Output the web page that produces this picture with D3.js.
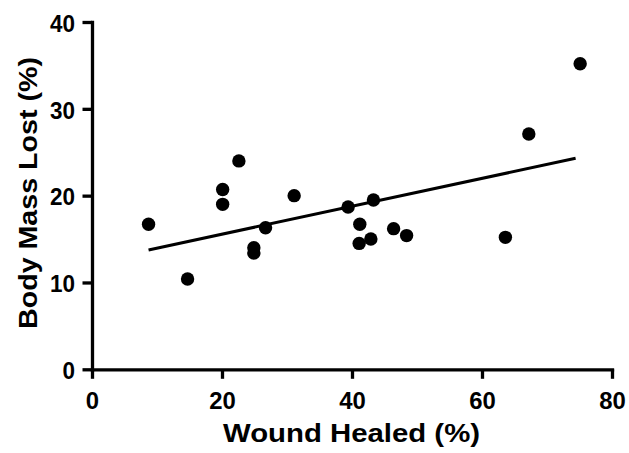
<!DOCTYPE html>
<html>
<head>
<meta charset="utf-8">
<script src="https://cdn.jsdelivr.net/npm/d3@7"></script>
<style>
  html, body { margin: 0; padding: 0; background: #fff; }
  svg { display: block; }
  text { font-family: "Liberation Sans", Arial, Helvetica, sans-serif; font-weight: bold; fill: #000; }
</style>
</head>
<body>
<svg id="chart" width="629" height="453"></svg>
<script>
// Data
const woundHealed = [8.7, 14.7, 20.1, 20.1, 22.6, 31.1, 26.7, 24.9, 24.9, 39.4, 43.3, 41.2, 46.4, 41.1, 42.9, 48.4, 63.6, 67.2, 75.1];
const bodyMassLost = [16.7, 10.4, 20.7, 19.0, 24.0, 20.0, 16.3, 14.0, 13.4, 18.7, 19.5, 16.7, 16.2, 14.5, 15.0, 15.4, 15.2, 27.1, 35.2];
const fitX = [8.7, 74.4];
const fitY = [13.75, 24.3];
const xTicks = [0, 20, 40, 60, 80];
const yTicks = [0, 10, 20, 30, 40];
const xTitle = "Wound Healed (%)";
const yTitle = "Body Mass Lost (%)";

const svg = d3.select("#chart");
const x = d3.scaleLinear().domain([0, 80]).range([92, 612]);
const y = d3.scaleLinear().domain([0, 40]).range([369.3, 22]);

const points = woundHealed.map((v, i) => ({ x: v, y: bodyMassLost[i] }));

// Axes
const xAxis = svg.append("g")
  .attr("transform", `translate(0,${y(0)})`)
  .call(d3.axisBottom(x).tickValues(xTicks).tickSize(9.5).tickSizeOuter(0));
const yAxis = svg.append("g")
  .attr("transform", `translate(${x(0)},0)`)
  .call(d3.axisLeft(y).tickValues(yTicks).tickSize(9.5).tickSizeOuter(0));

[xAxis, yAxis].forEach(g => {
  g.select(".domain").attr("stroke", "#000").attr("stroke-width", 3.3).attr("stroke-linecap", "square");
  g.selectAll(".tick line").attr("stroke", "#000").attr("stroke-width", 3.3);
  g.selectAll(".tick text").attr("font-size", 23).attr("font-weight", "bold").attr("fill", "#000")
    .attr("font-family", '"Liberation Sans", Arial, sans-serif');
});
xAxis.selectAll(".tick text").attr("y", 39.5).attr("dy", 0)
  .attr("textLength", d => String(d).length * 13.3).attr("lengthAdjust", "spacingAndGlyphs");
yAxis.selectAll(".tick text").attr("x", -17).attr("dy", "0.40em")
  .attr("textLength", d => String(d).length * 12.5).attr("lengthAdjust", "spacingAndGlyphs");

// Fit line
svg.append("line")
  .attr("x1", x(fitX[0])).attr("y1", y(fitY[0]))
  .attr("x2", x(fitX[1])).attr("y2", y(fitY[1]))
  .attr("stroke", "#000").attr("stroke-width", 3);

// Points
svg.append("g").selectAll("circle").data(points).join("circle")
  .attr("cx", d => x(d.x)).attr("cy", d => y(d.y)).attr("r", 6.7).attr("fill", "#000");

// Titles
svg.append("text")
  .attr("x", 351.5).attr("y", 441.5)
  .attr("text-anchor", "middle").attr("font-size", 26)
  .attr("textLength", 257).attr("lengthAdjust", "spacingAndGlyphs")
  .text(xTitle);
svg.append("text")
  .attr("transform", "translate(37,193) rotate(-90)")
  .attr("text-anchor", "middle").attr("font-size", 26)
  .attr("textLength", 272).attr("lengthAdjust", "spacingAndGlyphs")
  .text(yTitle);
</script>
</body>
</html>
